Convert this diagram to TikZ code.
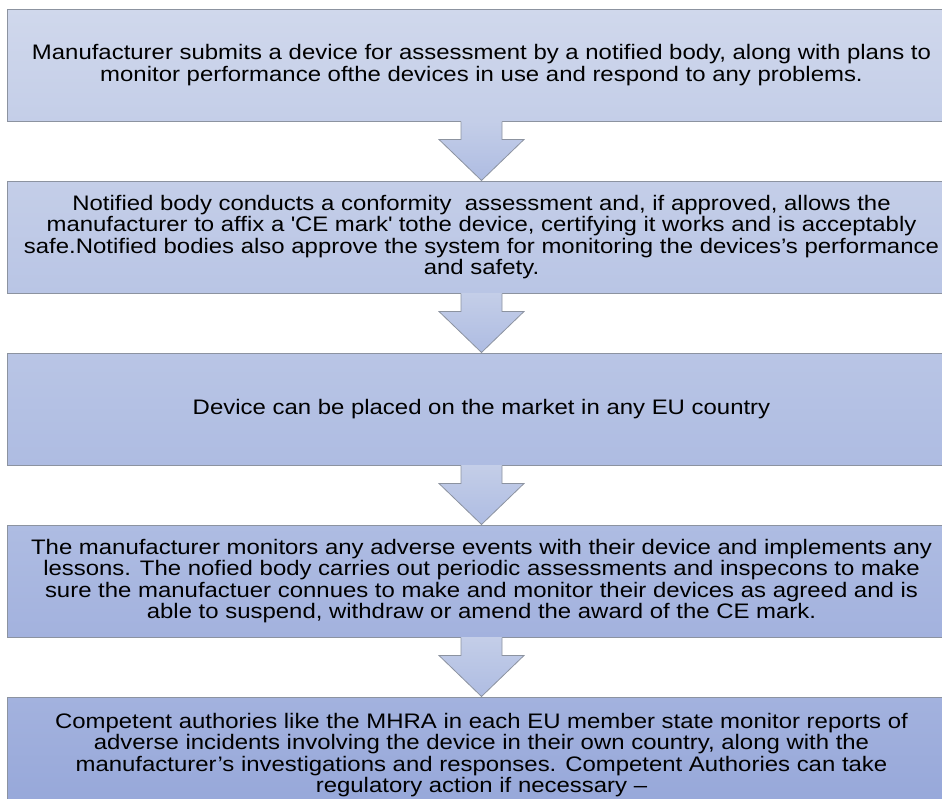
\documentclass[tikz,border=0pt]{standalone}
\usepackage{fontspec}
\setmainfont{Liberation Sans}[FakeStretch=1.14]
\usepackage{xcolor}
\usepackage{tikz}
\usetikzlibrary{positioning,calc}
\definecolor{boxedge}{RGB}{140,147,160}
\definecolor{fillA}{RGB}{208,216,236}
\definecolor{fillB}{RGB}{196,206,232}
\definecolor{fillC}{RGB}{185,197,229}
\definecolor{fillD}{RGB}{174,188,226}
\definecolor{fillE}{RGB}{163,178,222}
\definecolor{fillF}{RGB}{150,167,217}

\begin{document}
\begin{tikzpicture}[
  x=1pt, y=1pt,
  node distance=59pt,
  stepbox/.style={rectangle, draw=boxedge, line width=1pt, minimum width=949pt,
              minimum height=112pt, align=center, inner sep=0pt,
              font=\fontsize{21}{21.5}\selectfont}
]
\useasboundingbox (0,0) rectangle (942,-798);
\clip (0,0) rectangle (942,-798);

% Nodes
\node[stepbox, top color=fillA, bottom color=fillB] at (481.5,-65) (b1)
  {Manufacturer submits a device for assessment by a notified body, along with plans to\\
   monitor performance ofthe devices in use and respond to any problems.};
\node[stepbox, top color=fillB, bottom color=fillC, below=of b1] (b2)
  {Notified body conducts a conformity~ assessment and, if approved, allows the\\
   manufacturer to affix a \textquotesingle CE mark\textquotesingle{} tothe device, certifying it works and is acceptably\\
   safe.Notified bodies also approve the system for monitoring the devices’s performance\\
   and safety.};
\node[stepbox, top color=fillC, bottom color=fillD, below=of b2] (b3)
  {Device can be placed on the market in any EU country};
\node[stepbox, top color=fillD, bottom color=fillE, below=of b3] (b4)
  {The manufacturer monitors any adverse events with their device and implements any\\
   lessons. The nofied body carries out periodic assessments and inspecons to make\\
   sure the manufactuer connues to make and monitor their devices as agreed and is\\
   able to suspend, withdraw or amend the award of the CE mark.};
\node[stepbox, minimum height=116pt, top color=fillE, bottom color=fillF, below=of b4] (b5)
  {Competent authories like the MHRA in each EU member state monitor reports of\\
   adverse incidents involving the device in their own country, along with the\\
   manufacturer’s investigations and responses. Competent Authories can take\\
   regulatory action if necessary –};

% Arrows
\foreach \a/\b in {b1/b2, b2/b3, b3/b4, b4/b5}{
  \shade[top color=fillB, bottom color=fillD]
    ($(\a.south)+(-20.5,0.5)$) -- ($(\a.south)+(-20.5,-18)$) -- ($(\a.south)+(-42.5,-18)$)
    -- (\b.north) -- ($(\a.south)+(42.5,-18)$) -- ($(\a.south)+(20.5,-18)$)
    -- ($(\a.south)+(20.5,0.5)$) -- cycle;
  \draw[boxedge, line width=0.8pt, line join=miter]
    ($(\a.south)+(-20.5,0)$) -- ($(\a.south)+(-20.5,-18)$) -- ($(\a.south)+(-42.5,-18)$)
    -- (\b.north) -- ($(\a.south)+(42.5,-18)$) -- ($(\a.south)+(20.5,-18)$)
    -- ($(\a.south)+(20.5,0)$);
}

\end{tikzpicture}
\end{document}
